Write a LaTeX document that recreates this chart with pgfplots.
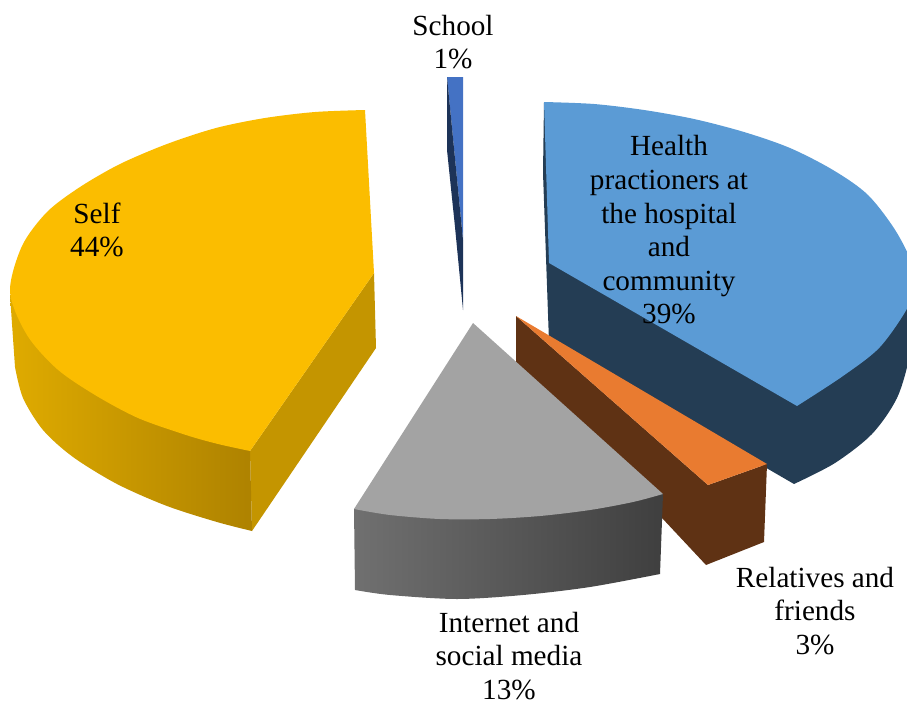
\documentclass[border=0pt]{standalone}
\usepackage{fontspec}
\setmainfont{Liberation Serif}
\usepackage{pgfplots}
\pgfplotsset{compat=1.18}
\definecolor{selfTop}{HTML}{FBBD00}
\definecolor{selfWall}{HTML}{C49500}
\definecolor{selfRimA}{HTML}{DFAB00}
\definecolor{selfRimB}{HTML}{AE8200}
\definecolor{healthTop}{HTML}{5B9BD5}
\definecolor{healthWall}{HTML}{243D54}
\definecolor{relTop}{HTML}{E97B30}
\definecolor{relWall}{HTML}{5F3214}
\definecolor{netTop}{HTML}{A3A3A3}
\definecolor{netRimA}{HTML}{707070}
\definecolor{netRimB}{HTML}{3F3F3F}
\definecolor{schoolTop}{HTML}{4472C4}
\definecolor{schoolWall}{HTML}{1D3358}
\begin{document}
\begin{tikzpicture}
\begin{axis}[
  scale only axis, width=907pt, height=701pt,
  xmin=0, xmax=907, ymin=0, ymax=701, y dir=reverse,
  axis lines=none, clip=true,
  every axis plot/.append style={draw=none, mark=none},
]
% Health practitioners: wall, then top face
\addplot[fill=healthWall, smooth] coordinates {
  (794,484) (835,463) (872,434) (897,398) (910,355) (917,310) (917,285)}
  -- (axis cs:700,250) -- (axis cs:544,102) -- (axis cs:543,173) -- (axis cs:549,342) -- cycle;
\addplot[fill=healthTop, smooth] coordinates {
  (544,102) (594,104) (644,110) (694,119) (744,132) (790,148) (833,170) (868,195) (897,233) (916,275)
  (909,305) (880,347) (843,376) (797,406)}
  -- (axis cs:549,263) -- cycle;
% Relatives and friends
\addplot[fill=relWall] coordinates {
  (516,316) (708,485) (767,464) (764,542) (706,565) (516,362)};
\addplot[fill=relTop] coordinates {(516,316) (767,464) (708,485)};
% Internet and social media
\addplot[smooth, left color=netRimA, right color=netRimB] coordinates {
  (355,590) (390,595) (457,599) (523,595) (590,587) (660,574)}
  -- (axis cs:663,494) -- (axis cs:354,509) -- cycle;
\addplot[fill=netTop, smooth] coordinates {
  (354,509) (390,515) (440,519) (490,519) (540,516) (590,510) (633,502) (663,494)}
  -- (axis cs:473,323) -- cycle;
% Self: inner wall, rim and top face
\addplot[fill=selfWall] coordinates {(374,273) (376,348) (252,531) (250,451)};
\addplot[smooth, left color=selfRimA, right color=selfRimB] coordinates {
  (15,367) (23,398) (43,430) (73,457) (117,484) (167,506) (217,522) (252,531)}
  -- (axis cs:250,451) -- (axis cs:100,300) -- (axis cs:10,295) -- cycle;
\addplot[fill=selfTop, smooth] coordinates {
  (365,110) (315,112) (265,118) (216,128) (167,144) (120,164) (80,187) (47,212) (22,246) (10,292)
  (27,335) (57,369) (95,395) (138,418) (186,435) (218,444) (250,451)}
  -- (axis cs:374,273) -- cycle;
% School
\addplot[fill=schoolTop] coordinates {(447,77) (463,77) (463,240)};
\addplot[fill=schoolWall] coordinates {(447,77) (463,240) (463,310) (455,227) (447,150)};
% Data labels
\begin{scope}[every node/.style={align=center, font=\fontsize{29.2}{33.6}\selectfont, text=black, inner sep=0pt}]
\node at (axis cs:453,42) {School\\1\%};
\node at (axis cs:669,230) {Health\\practioners at\\the hospital\\and\\community\\39\%};
\node at (axis cs:97,230) {Self\\44\%};
\node at (axis cs:815,611) {Relatives and\\friends\\3\%};
\node at (axis cs:509,656) {Internet and\\social media\\13\%};
\end{scope}
\end{axis}
\pgfresetboundingbox
\path (current axis.south west) rectangle (current axis.north east);
\end{tikzpicture}
\end{document}
